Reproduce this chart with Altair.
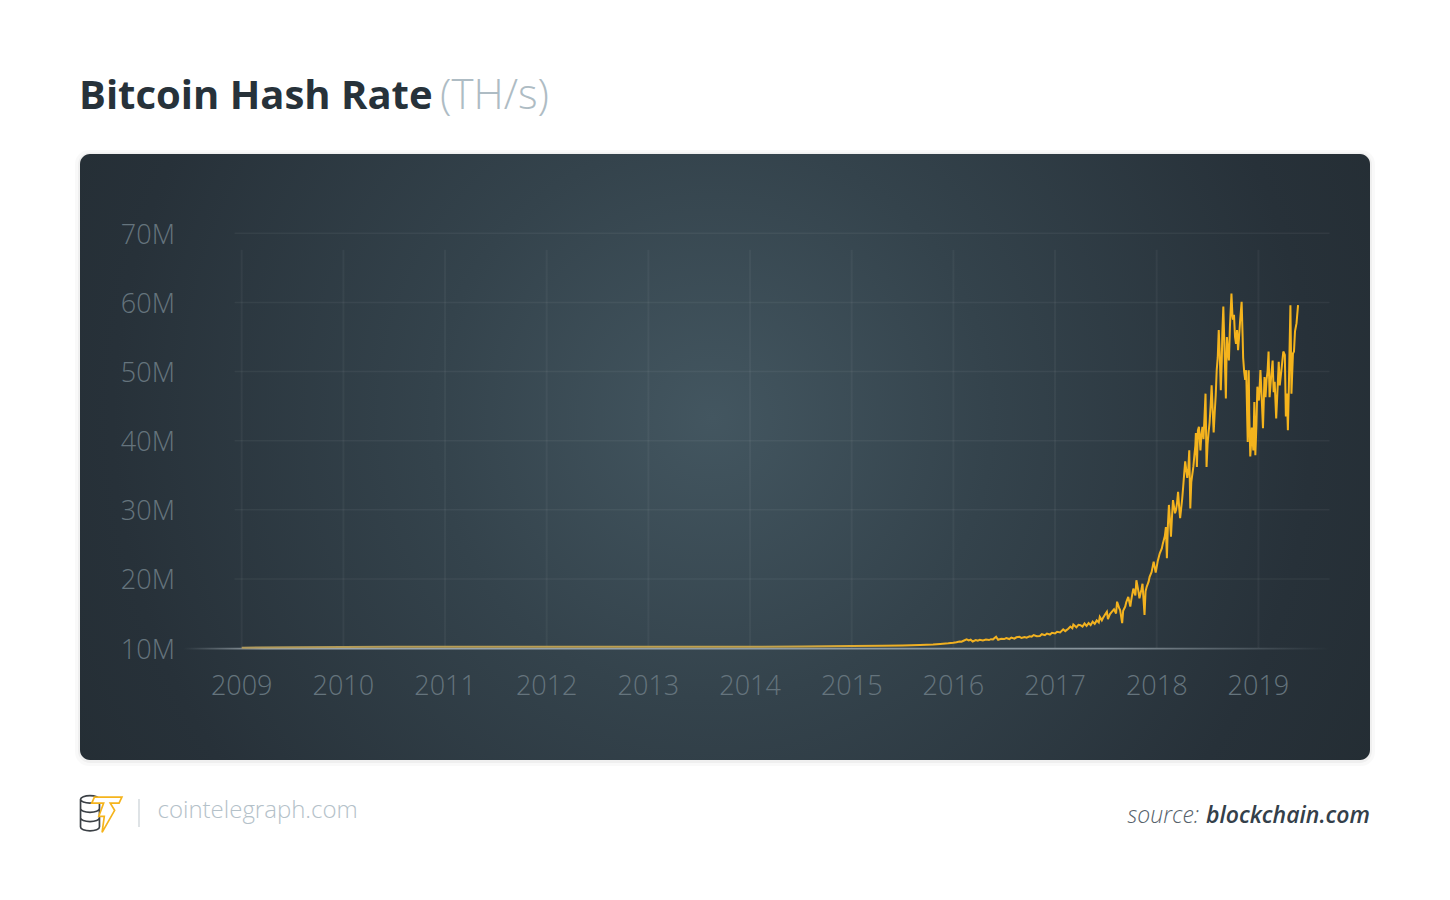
import altair as alt
import pandas as pd

# ---------------- data (hash rate in millions TH/s) ----------------
years = [
    2009.0, 2009.5, 2010.0, 2010.5, 2011.0, 2011.5, 2012.0, 2012.5, 2013.0, 2013.5,
    2014.0, 2014.5, 2015.0, 2015.3, 2015.5, 2015.67, 2015.8, 2015.87, 2015.95,
    2016.0, 2016.03, 2016.06, 2016.08, 2016.1, 2016.13, 2016.15, 2016.17, 2016.19, 2016.22,
    2016.24, 2016.26, 2016.29, 2016.32, 2016.35, 2016.37, 2016.39, 2016.42, 2016.44, 2016.47,
    2016.5, 2016.52, 2016.55, 2016.57, 2016.6, 2016.62, 2016.65, 2016.67, 2016.7, 2016.72,
    2016.75, 2016.77, 2016.79, 2016.82, 2016.85, 2016.87, 2016.9, 2016.92, 2016.95, 2016.97,
    2017.0, 2017.02, 2017.05, 2017.08, 2017.1, 2017.13, 2017.15, 2017.17, 2017.18, 2017.21,
    2017.23, 2017.25, 2017.27, 2017.29, 2017.31, 2017.33,
    2017.35, 2017.37, 2017.39, 2017.41, 2017.43, 2017.44, 2017.46, 2017.47, 2017.49, 2017.51,
    2017.52, 2017.54, 2017.56, 2017.58, 2017.6, 2017.61, 2017.63, 2017.64, 2017.66, 2017.67,
    2017.69, 2017.7, 2017.72, 2017.74, 2017.75, 2017.77, 2017.79, 2017.8, 2017.82, 2017.83,
    2017.85, 2017.86, 2017.88, 2017.89, 2017.9, 2017.92, 2017.93, 2017.95, 2017.97, 2017.99,
    2018.01, 2018.03, 2018.05, 2018.06, 2018.08, 2018.09, 2018.1, 2018.11, 2018.12, 2018.13,
    2018.14, 2018.15, 2018.16, 2018.18, 2018.19, 2018.2, 2018.21, 2018.22, 2018.23, 2018.25,
    2018.26, 2018.27, 2018.28, 2018.3, 2018.31, 2018.32, 2018.33, 2018.34, 2018.36, 2018.37,
    2018.38, 2018.385, 2018.395, 2018.405, 2018.415, 2018.43, 2018.44, 2018.45, 2018.46, 2018.47,
    2018.48, 2018.49, 2018.5, 2018.51, 2018.52, 2018.53, 2018.54, 2018.55, 2018.56, 2018.57,
    2018.58, 2018.59, 2018.6, 2018.61, 2018.62, 2018.63, 2018.64, 2018.645, 2018.655, 2018.665,
    2018.67, 2018.68, 2018.69, 2018.7, 2018.71, 2018.72, 2018.735, 2018.745, 2018.75, 2018.76,
    2018.77, 2018.78, 2018.79, 2018.8, 2018.81, 2018.82, 2018.835, 2018.845, 2018.85, 2018.86,
    2018.87, 2018.88, 2018.895, 2018.905, 2018.91, 2018.92, 2018.93, 2018.935, 2018.95, 2018.96,
    2018.97, 2018.98, 2018.99, 2019.0, 2019.005, 2019.015, 2019.02, 2019.035, 2019.045, 2019.06,
    2019.07, 2019.08, 2019.09, 2019.1, 2019.11, 2019.125, 2019.14, 2019.15, 2019.16, 2019.175,
    2019.19, 2019.2, 2019.21, 2019.23, 2019.245, 2019.26, 2019.27, 2019.28, 2019.29, 2019.3,
    2019.305, 2019.315, 2019.325, 2019.34, 2019.35, 2019.36, 2019.375, 2019.39,
]
hash_m = [
    10.05, 10.12, 10.16, 10.17, 10.18, 10.18, 10.18, 10.18, 10.18, 10.18,
    10.19, 10.22, 10.28, 10.33, 10.37, 10.43, 10.5, 10.58, 10.68,
    10.77, 10.85, 10.95, 10.91, 11.05, 11.26, 11.1, 11.2, 10.95, 11.15,
    11.05, 11.18, 11.1, 11.22, 11.15, 11.28, 11.25, 11.62, 11.2, 11.35,
    11.3, 11.45, 11.3, 11.5, 11.35, 11.55, 11.62, 11.45, 11.6, 11.5,
    11.7, 11.65, 11.88, 11.7, 11.75, 12.0, 11.85, 12.1, 11.95, 12.2,
    12.1, 12.35, 12.25, 12.7, 12.45, 12.8, 13.1, 12.85, 13.4, 13.0,
    13.35, 13.3, 13.1, 13.55, 13.2, 13.6,
    13.3, 13.8, 13.5, 14.0, 13.7, 14.5, 14.0, 14.3, 14.8, 15.25,
    14.2, 14.9, 15.25, 15.6, 15.0, 16.7, 15.8, 15.5, 13.6, 15.4,
    16.0, 16.6, 17.4, 16.0, 17.0, 18.6, 17.6, 19.8, 18.2, 17.2,
    18.5, 19.3, 14.8, 18.2, 18.8, 19.6, 20.3, 21.0, 22.5, 20.9,
    22.6, 23.7, 24.4, 25.1, 26.2, 27.5, 23.0, 27.8, 30.7, 28.5,
    26.1, 29.0, 31.4, 29.5, 30.0, 31.0, 32.6, 30.5, 28.8, 31.5,
    33.3, 35.2, 37.0, 34.6, 35.8, 38.6, 30.2, 34.0, 36.2, 37.8,
    39.3, 41.1, 36.2, 41.5, 42.0, 38.6, 41.0, 42.0, 40.2, 43.5,
    46.8, 36.2, 39.5, 41.2, 42.6, 45.0, 48.0, 44.5, 41.2, 44.0,
    46.5, 50.2, 52.0, 56.0, 52.5, 47.3, 51.6, 55.5, 59.4, 54.0,
    51.6, 46.1, 55.0, 53.0, 51.6, 56.5, 61.3, 58.0, 57.5, 58.2,
    55.0, 54.0, 56.0, 53.1, 55.0, 57.3, 60.1, 55.0, 52.0, 50.0,
    48.8, 50.2, 39.8, 50.2, 44.0, 37.7, 40.0, 41.9, 38.6, 45.6,
    37.9, 42.0, 47.8, 46.5, 45.8, 48.5, 50.2, 45.3, 41.8, 49.2,
    46.3, 48.8, 50.0, 52.9, 46.3, 49.2, 51.6, 47.0, 48.5, 43.2,
    48.0, 51.4, 48.0, 50.7, 52.9, 52.4, 43.5, 46.8, 41.5, 48.0,
    52.2, 59.6, 46.8, 52.6, 52.9, 55.8, 57.0, 59.6,
]
year_ticks = [2009, 2010, 2011, 2012, 2013, 2014, 2015, 2016, 2017, 2018, 2019]
value_ticks = [10, 20, 30, 40, 50, 60, 70]
grid_values = [20, 30, 40, 50, 60, 70]

title_main = "Bitcoin Hash Rate"
title_unit = "(TH/s)"
brand = "cointelegraph.com"
source_label = "source:"
source_name = "blockchain.com"

# ---------------- chart ----------------
W, H = 1290, 606
FONT = "Open Sans"
YELLOW = "#f5b41c"
LABEL = "#65747d"

line_df = pd.DataFrame({"year": years, "hash": hash_m})
vgrid_df = pd.DataFrame({"year": year_ticks})
ylab_df = pd.DataFrame({"v": value_ticks})
hgrid_df = pd.DataFrame({"v": grid_values})
one = pd.DataFrame({"k": [0]})

xs = alt.Scale(domain=[2007.4095, 2020.0977], nice=False, zero=False)
ys = alt.Scale(domain=[-6.20, 81.47], nice=False, zero=False)

shadow1 = alt.Chart(one).mark_rect(cornerRadius=14, color="#000000", opacity=0.025).encode(
    x=alt.value(-5), x2=alt.value(W + 5), y=alt.value(-4), y2=alt.value(H + 6))
shadow2 = alt.Chart(one).mark_rect(cornerRadius=12, color="#000000", opacity=0.04).encode(
    x=alt.value(-2), x2=alt.value(W + 2), y=alt.value(-1.5), y2=alt.value(H + 3))

panel = alt.Chart(one).mark_rect(
    cornerRadius=10,
    fill={
        "gradient": "radial",
        "x1": 0.49, "y1": 0.47, "r1": 0,
        "x2": 0.49, "y2": 0.47, "r2": 0.62,
        "stops": [
            {"offset": 0.0, "color": "#435660"},
            {"offset": 0.35, "color": "#34434c"},
            {"offset": 0.75, "color": "#273139"},
            {"offset": 1.0, "color": "#232c32"},
        ],
    },
).encode(x=alt.value(0), x2=alt.value(W), y=alt.value(0), y2=alt.value(H))

hgrid = alt.Chart(hgrid_df).mark_rule(color="#ffffff", opacity=0.05, strokeWidth=1.5).encode(
    y=alt.Y("v:Q", scale=ys, axis=None),
    x=alt.XDatum(2008.93, scale=xs, axis=None),
    x2=alt.X2Datum(2019.70),
)
vgrid = alt.Chart(vgrid_df).mark_rule(color="#ffffff", opacity=0.045, strokeWidth=2).encode(
    x=alt.X("year:Q", scale=xs, axis=None),
    y=alt.YDatum(10.0, scale=ys, axis=None),
    y2=alt.Y2Datum(67.6),
)

baseline = alt.Chart(one).mark_rect(
    fill={
        "gradient": "linear", "x1": 0, "y1": 0, "x2": 1, "y2": 0,
        "stops": [
            {"offset": 0.0, "color": "rgba(160,172,180,0)"},
            {"offset": 0.07, "color": "rgba(170,180,186,0.9)"},
            {"offset": 0.8, "color": "rgba(150,162,170,0.85)"},
            {"offset": 1.0, "color": "rgba(150,162,170,0)"},
        ],
    }
).encode(
    x=alt.XDatum(2008.43, scale=xs, axis=None),
    x2=alt.X2Datum(2019.70),
    y=alt.YDatum(10.05, scale=ys, axis=None),
    y2=alt.Y2Datum(9.78),
)

line = alt.Chart(line_df).mark_line(
    stroke={
        "gradient": "linear", "x1": 0, "y1": 0, "x2": 1, "y2": 0,
        "stops": [
            {"offset": 0.0, "color": "#b09a5c"},
            {"offset": 0.5, "color": "#c2a24c"},
            {"offset": 0.62, "color": "#f0b022"},
            {"offset": 1.0, "color": YELLOW},
        ],
    },
    strokeWidth=2, strokeJoin="miter", strokeMiterLimit=3,
).encode(
    x=alt.X("year:Q", scale=xs, axis=None),
    y=alt.Y("hash:Q", scale=ys, axis=None),
    order="year:Q",
)

# tick labels, placed through the same scales
xlabels = alt.Chart(vgrid_df).mark_text(
    font=FONT, fontSize=27, fontWeight=300, color=LABEL, align="center", baseline="alphabetic"
).encode(
    x=alt.X("year:Q", scale=xs, axis=None),
    y=alt.value(540.7),
    text=alt.Text("year:Q", format="d"),
)
ylabels = alt.Chart(ylab_df).transform_calculate(label="datum.v + 'M'").mark_text(
    font=FONT, fontSize=27, fontWeight=300, color=LABEL, align="right", baseline="middle", dy=2.5
).encode(
    y=alt.Y("v:Q", scale=ys, axis=None),
    x=alt.value(95),
    text="label:N",
)


def txt(s, x, y, size, weight, color, align="left", style="normal"):
    return alt.Chart(one).mark_text(
        text=s, font=FONT, fontSize=size, fontWeight=weight, fontStyle=style,
        color=color, align=align, baseline="alphabetic",
    ).encode(x=alt.value(x), y=alt.value(y))


t_main = txt(title_main, -1, -45, 40, "bold", "#27323a")
t_unit = txt(title_unit, 360, -45, 42, 300, "#aebcc4")
t_brand = txt(brand, 77.5, 664.3, 24, 300, "#b4c1c9")
t_src1 = txt(source_label, 1119, 669.3, 23, 300, "#56626b", align="right", style="italic")
t_src2 = txt(source_name, 1290, 669.3, 23, 600, "#34404a", align="right", style="italic")

sep = alt.Chart(one).mark_rule(color="#c9d1d6", strokeWidth=1.2).encode(
    x=alt.value(59), y=alt.value(645), y2=alt.value(673))

coins_path = ("M-0.93,-0.62 A0.43,0.17 0 1,1 -0.07,-0.62 A0.43,0.17 0 1,1 -0.93,-0.62 Z "
              "M-0.93,-0.62 L-0.93,0.64 A0.43,0.17 0 0,0 -0.07,0.64 L-0.07,-0.62 "
              "M-0.93,-0.2 A0.43,0.17 0 0,0 -0.07,-0.2 "
              "M-0.93,0.22 A0.43,0.17 0 0,0 -0.07,0.22")
bolt_path = ("M-0.3,-0.72 L0.95,-0.72 L0.82,-0.45 L0.42,-0.45 L0.62,-0.12 L0.05,0.88 "
             "L0.15,0.15 L-0.1,0.15 L0.12,-0.45 L-0.42,-0.45 Z")
coins = alt.Chart(one).mark_point(
    shape=coins_path, size=1936, filled=False, stroke="#3b4045", strokeWidth=1.7, opacity=1
).encode(x=alt.value(21), y=alt.value(659))
bolt = alt.Chart(one).mark_point(
    shape=bolt_path, size=1936, filled=True, fill="#ffffff", stroke=YELLOW, strokeWidth=1.7, opacity=1
).encode(x=alt.value(21), y=alt.value(659))

chart = alt.layer(
    shadow1, shadow2, panel, hgrid, vgrid, baseline, line, xlabels, ylabels,
    t_main, t_unit, t_brand, t_src1, t_src2, sep, coins, bolt,
).properties(
    width=W, height=H,
    padding={"left": 72, "top": 146, "right": 72, "bottom": 132},
    autosize=alt.AutoSizeParams(type="none"),
    background="#ffffff",
).configure_view(strokeWidth=0)

chart.save("out.html", embed_options={"renderer": "svg", "actions": False})
